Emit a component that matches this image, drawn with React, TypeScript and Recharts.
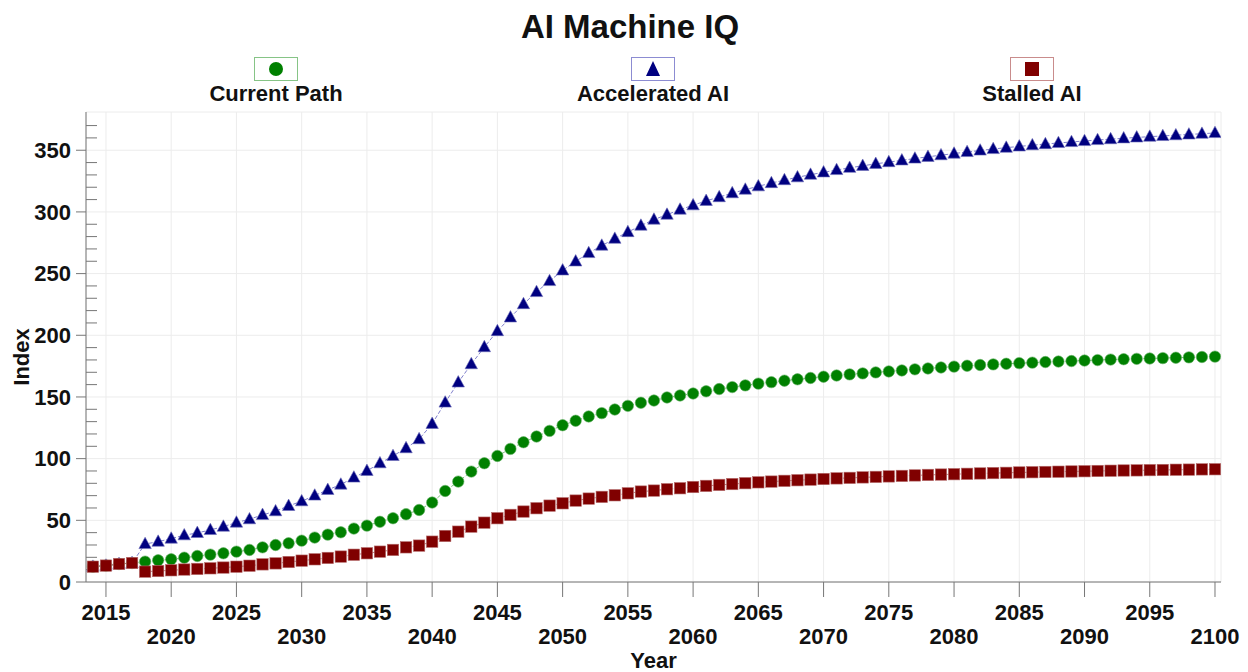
import React from 'react'
import { LineChart, Line, XAxis, YAxis, CartesianGrid, Legend } from 'recharts'

const years = [
  2014, 2015, 2016, 2017, 2018, 2019, 2020, 2021, 2022, 2023, 2024, 2025, 2026, 2027, 2028, 2029, 2030,
  2031, 2032, 2033, 2034, 2035, 2036, 2037, 2038, 2039, 2040, 2041, 2042, 2043, 2044, 2045, 2046, 2047,
  2048, 2049, 2050, 2051, 2052, 2053, 2054, 2055, 2056, 2057, 2058, 2059, 2060, 2061, 2062, 2063, 2064,
  2065, 2066, 2067, 2068, 2069, 2070, 2071, 2072, 2073, 2074, 2075, 2076, 2077, 2078, 2079, 2080, 2081,
  2082, 2083, 2084, 2085, 2086, 2087, 2088, 2089, 2090, 2091, 2092, 2093, 2094, 2095, 2096, 2097, 2098,
  2099, 2100,
]

const currentPath = [
  12.4, 13.3, 14.6, 15.4,
  16.5, 17.6, 18.4, 19.7, 21.1, 22.2, 23.3, 24.6, 26.0, 28.1, 30.0, 31.4, 33.5, 36.0, 38.4, 40.3, 43.3, 45.7, 48.8,
  51.7, 54.9, 58.4, 64.4, 73.8, 81.4, 89.5, 96.3, 102.2, 107.9, 113.3, 117.9, 122.5, 127.1, 130.7, 134.2, 136.9,
  139.8, 142.8, 145.3, 147.1, 149.6, 151.2,
  152.8, 154.6, 156.4, 158.0, 159.4, 160.8, 162.0, 163.2, 164.3, 165.4, 166.4, 167.4, 168.3, 169.1, 169.9, 170.7,
  171.5, 172.4, 173.1, 173.9, 174.6, 175.3, 175.9, 176.4, 176.9, 177.4, 177.8, 178.3, 178.7, 179.1, 179.5, 179.9,
  180.3, 180.6, 180.9, 181.2, 181.5, 181.8, 182.1, 182.4, 182.7,
]

const acceleratedAI = [
  12.4, 13.3, 14.6, 15.4,
  30.8, 32.7, 35.2, 37.9, 39.8, 42.2, 44.9, 48.2, 50.9, 54.4, 57.4, 61.7, 65.5, 70.1, 74.7, 79.0, 84.7, 90.1, 96.3,
  102.2, 108.5, 115.8, 128.2, 145.5, 161.8, 176.6, 190.4, 203.4, 214.5, 225.3, 235.1, 244.0, 252.6, 259.9, 266.7,
  272.7, 278.3, 283.7, 288.9, 293.8, 297.8, 301.9,
  305.4, 309.0, 312.0, 315.2, 318.1, 320.8, 323.4, 325.8, 328.1, 330.2, 332.1, 334.0, 335.8, 337.4, 339.0, 340.4,
  341.8, 343.3, 344.7, 346.0, 347.3, 348.6, 349.8, 351.0, 352.1, 353.1, 354.1, 355.0, 355.9, 356.7, 357.5, 358.3,
  359.0, 359.7, 360.4, 361.0, 361.6, 362.2, 362.8, 363.4, 364.0,
]

const stalledAI = [
  12.4, 13.3, 14.6, 15.4,
  8.4, 8.9, 9.5, 10.1, 10.6, 11.1, 11.7, 12.4, 13.2, 14.3, 15.1, 16.2, 17.3, 18.4, 19.5, 20.6, 22.1, 23.3, 24.6,
  26.0, 28.1, 29.5, 32.7, 37.3, 40.8, 44.9, 48.1, 51.7, 54.4, 57.1, 59.8, 61.9, 63.8, 66.0, 67.6, 69.0, 70.3, 71.9,
  73.3, 74.1, 75.2, 76.0,
  77.0, 77.9, 78.7, 79.4, 80.1, 80.8, 81.4, 82.0, 82.5, 83.0, 83.5, 84.0, 84.4, 84.8, 85.2, 85.6,
  86.0, 86.4, 86.8, 87.1, 87.4, 87.7, 88.0, 88.3, 88.5, 88.8, 89.0, 89.2, 89.4, 89.6, 89.8, 90.0,
  90.2, 90.4, 90.5, 90.7, 90.8, 91.0, 91.1, 91.3, 91.4,
]

const xTicks = [2015, 2020, 2025, 2030, 2035, 2040, 2045, 2050, 2055, 2060, 2065, 2070, 2075, 2080, 2085, 2090, 2095, 2100]
const yTicks = [0, 50, 100, 150, 200, 250, 300, 350]
const yMinorTicks = [10, 20, 30, 40, 60, 70, 80, 90, 110, 120, 130, 140, 160, 170, 180, 190, 210, 220, 230, 240, 260, 270, 280, 290, 310, 320, 330, 340, 360, 370]

const data = years.map((year, i) => ({
  year,
  current: currentPath[i],
  accelerated: acceleratedAI[i],
  stalled: stalledAI[i],
}))

const FONT = '"Liberation Sans", Arial, sans-serif'
const AXIS = '#777'

const GREEN = '#008000'
const NAVY = '#000080'
const MAROON = '#800000'

function CircleDot(props: any) {
  const { cx, cy, index } = props
  if (cx == null || cy == null) return null
  return <circle key={'c' + index} cx={cx} cy={cy} r={5.7} fill={GREEN} stroke="#5fae5f" strokeWidth={0.6} />
}

function TriangleDot(props: any) {
  const { cx, cy, index } = props
  if (cx == null || cy == null) return null
  return (
    <polygon
      key={'t' + index}
      points={`${cx},${cy - 6.8} ${cx + 6.2},${cy + 4.6} ${cx - 6.2},${cy + 4.6}`}
      fill={NAVY}
      stroke="#6b6bb8"
      strokeWidth={0.6}
    />
  )
}

function SquareDot(props: any) {
  const { cx, cy, index } = props
  if (cx == null || cy == null) return null
  return <rect key={'s' + index} x={cx - 5.7} y={cy - 5.7} width={11.4} height={11.4} fill={MAROON} stroke="#b56b6b" strokeWidth={0.6} />
}

function YearTick(props: any) {
  const { x, y, payload } = props
  const lower = payload.value % 10 === 0
  return (
    <text x={x} y={y + (lower ? 45 : 21)} textAnchor="middle" fontFamily={FONT} fontSize={22} fontWeight="bold" fill="#111">
      {payload.value}
    </text>
  )
}

const legendItems = [
  { label: 'Current Path', center: 276, border: '#86c486', shape: 'circle' },
  { label: 'Accelerated AI', center: 653, border: '#8c8cd2', shape: 'triangle' },
  { label: 'Stalled AI', center: 1032, border: '#c98c8c', shape: 'square' },
]

function LegendBoxes() {
  return (
    <div style={{ position: 'relative', width: 1248, height: 52, fontFamily: FONT }}>
      {legendItems.map((it) => (
        <div key={it.label} style={{ position: 'absolute', left: it.center - 120, width: 240, top: 0, textAlign: 'center' }}>
          <svg width={44} height={24} style={{ display: 'block', margin: '0 auto' }}>
            <rect x={0.5} y={0.5} width={43} height={23} fill="#fff" stroke={it.border} strokeWidth={1} />
            {it.shape === 'circle' && <circle cx={22} cy={12} r={7} fill={GREEN} />}
            {it.shape === 'triangle' && <polygon points="22,4 29,19 15,19" fill={NAVY} />}
            {it.shape === 'square' && <rect x={15} y={5} width={14} height={14} fill={MAROON} />}
          </svg>
          <div style={{ fontSize: 22, fontWeight: 'bold', color: '#111', lineHeight: '26px' }}>{it.label}</div>
        </div>
      ))}
    </div>
  )
}

export default function App() {
  return (
    <div style={{ position: 'absolute', left: 0, top: 0, width: 1248, height: 672, background: '#fff' }}>
      <div
        style={{
          position: 'absolute', left: 0, top: 8, width: 1260, textAlign: 'center',
          fontFamily: FONT, fontSize: 33, fontWeight: 'bold', color: '#111', lineHeight: '38px',
        }}
      >
        AI Machine IQ
      </div>
      <LineChart width={1248} height={672} data={data} margin={{ top: 112, right: 27, bottom: 0, left: 10 }}>
        <CartesianGrid stroke="#ececec" />
        <XAxis
          dataKey="year"
          type="number"
          domain={[2013.47, 2100.46]}
          allowDataOverflow
          ticks={xTicks}
          interval={0}
          height={90}
          tickSize={15}
          stroke={AXIS}
          tick={<YearTick />}
          label={{
            content: (p: any) => (
              <text x={p.viewBox.x + p.viewBox.width / 2} y={668} textAnchor="middle" fontFamily={FONT} fontSize={22} fontWeight="bold" fill="#111">
                Year
              </text>
            ),
          }}
        />
        <XAxis xAxisId="top" orientation="top" dataKey="year" type="number" domain={[2013.47, 2100.46]} height={0} tick={false} tickLine={false} stroke={AXIS} />
        <YAxis
          domain={[0, 381]}
          allowDataOverflow
          ticks={yTicks}
          interval={0}
          width={76}
          tickSize={10}
          tickMargin={5}
          stroke={AXIS}
          tick={{ fontFamily: FONT, fontSize: 22, fontWeight: 'bold', fill: '#111' }}
          label={{
            content: (p: any) => (
              <text
                x={21}
                y={p.viewBox.y + p.viewBox.height / 2 + 10}
                transform={`rotate(-90, 21, ${p.viewBox.y + p.viewBox.height / 2 + 10})`}
                textAnchor="middle"
                dominantBaseline="central"
                fontFamily={FONT}
                fontSize={22}
                fontWeight="bold"
                fill="#111"
              >
                Index
              </text>
            ),
          }}
        />
        <YAxis
          yAxisId="minor"
          mirror
          domain={[0, 381]}
          allowDataOverflow
          ticks={yMinorTicks}
          interval={0}
          tickSize={11}
          axisLine={false}
          stroke={AXIS}
          tickFormatter={() => ''}
        />
        <YAxis yAxisId="right" orientation="right" domain={[0, 381]} width={0} tick={false} tickLine={false} stroke="#aaa" strokeWidth={2} />
        <Legend verticalAlign="middle" wrapperStyle={{ top: 57, left: 0, width: 1248 }} content={() => <LegendBoxes />} />
        <Line
          dataKey="current"
          name="Current Path"
          stroke="#7fbf7f"
          strokeWidth={1}
          strokeDasharray="4 2"
          dot={CircleDot}
          activeDot={false}
          isAnimationActive={false}
        />
        <Line
          dataKey="accelerated"
          name="Accelerated AI"
          stroke="#8080cc"
          strokeWidth={1}
          strokeDasharray="4 2"
          dot={TriangleDot}
          activeDot={false}
          isAnimationActive={false}
        />
        <Line
          dataKey="stalled"
          name="Stalled AI"
          stroke="#c08080"
          strokeWidth={1}
          strokeDasharray="4 2"
          dot={SquareDot}
          activeDot={false}
          isAnimationActive={false}
        />
      </LineChart>
    </div>
  )
}
